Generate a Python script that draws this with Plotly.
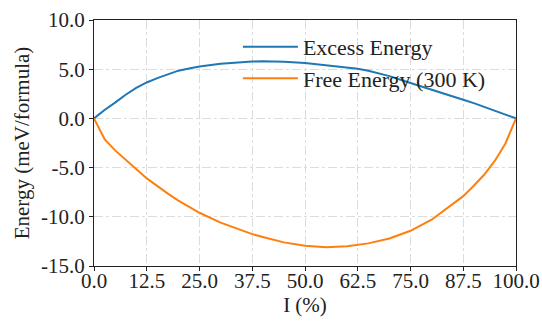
import plotly.graph_objects as go

# Composition I (%)
x_pct = [0, 2.5, 5, 7.5, 10, 12.5, 15, 17.5, 20, 22.5, 25, 30, 35, 37.5, 40, 45, 50,
         55, 60, 62.5, 65, 70, 75, 80, 85, 87.5, 90, 92.5, 95, 97.5, 100]

# Excess energy (meV/formula)
excess = [0, 0.85, 1.6, 2.4, 3.1, 3.65, 4.1, 4.5, 4.85, 5.08, 5.27, 5.55, 5.73, 5.78, 5.8,
          5.75, 5.62, 5.42, 5.18, 5.05, 4.85, 4.3, 3.6, 2.95, 2.25, 1.9, 1.55, 1.18, 0.8, 0.4, 0]

# Free energy at 300 K (meV/formula)
free = [0, -2.1, -3.25, -4.25, -5.15, -6.1, -6.9, -7.65, -8.35, -9.0, -9.59, -10.6, -11.35,
        -11.76, -12.05, -12.6, -12.95, -13.1, -13.0, -12.88, -12.7, -12.2, -11.42, -10.3,
        -8.75, -7.9, -6.85, -5.7, -4.3, -2.55, 0]

x_ticks = [0, 12.5, 25, 37.5, 50, 62.5, 75, 87.5, 100]
x_ticklabels = ["0.0", "12.5", "25.0", "37.5", "50.0", "62.5", "75.0", "87.5", "100.0"]
y_ticks = [-15, -10, -5, 0, 5, 10]
y_ticklabels = ["-15.0", "-10.0", "-5.0", "0.0", "5.0", "10.0"]

FONT = "Liberation Serif"
TXT = "#222222"

fig = go.Figure()
fig.add_trace(go.Scatter(x=x_pct, y=excess, mode="lines", name="Excess Energy",
                         line=dict(color="#1f77b4", width=2)))
fig.add_trace(go.Scatter(x=x_pct, y=free, mode="lines", name="Free Energy (300 K)",
                         line=dict(color="#ff7f0e", width=2)))

axis_common = dict(
    showline=True, linecolor="#222222", linewidth=1.2, mirror=True,
    ticks="outside", ticklen=4, tickwidth=1, tickcolor="#222222",
    showgrid=True, gridcolor="#dcdcdc", griddash="dashdot", gridwidth=1,
    zeroline=False, automargin=False,
    tickfont=dict(family=FONT, size=21, color=TXT),
)

fig.update_xaxes(range=[0, 100], tickvals=x_ticks, ticktext=x_ticklabels,
                 ticklabelstandoff=-8,
                 title=dict(text="I (%)", font=dict(family=FONT, size=21, color=TXT), standoff=0),
                 **axis_common)
fig.update_yaxes(range=[-15, 10], tickvals=y_ticks, ticktext=y_ticklabels,
                 title=dict(text="Energy (meV/formula)", font=dict(family=FONT, size=21, color=TXT),
                            standoff=5),
                 **axis_common)

fig.update_layout(
    width=542, height=321,
    margin=dict(l=94, r=26, t=20, b=55),
    plot_bgcolor="white", paper_bgcolor="white",
    font=dict(family=FONT, color=TXT),
    showlegend=True,
    legend=dict(x=0.341, y=0.976, xanchor="left", yanchor="top",
                bgcolor="rgba(0,0,0,0)", borderwidth=0,
                font=dict(family=FONT, size=22, color=TXT),
                itemwidth=55, tracegroupgap=0),
)

# remove the default 8px page margin so the figure fills the window exactly
fig.write_html("out.html", config={"displayModeBar": False},
               post_script="document.body.style.margin='0';")
